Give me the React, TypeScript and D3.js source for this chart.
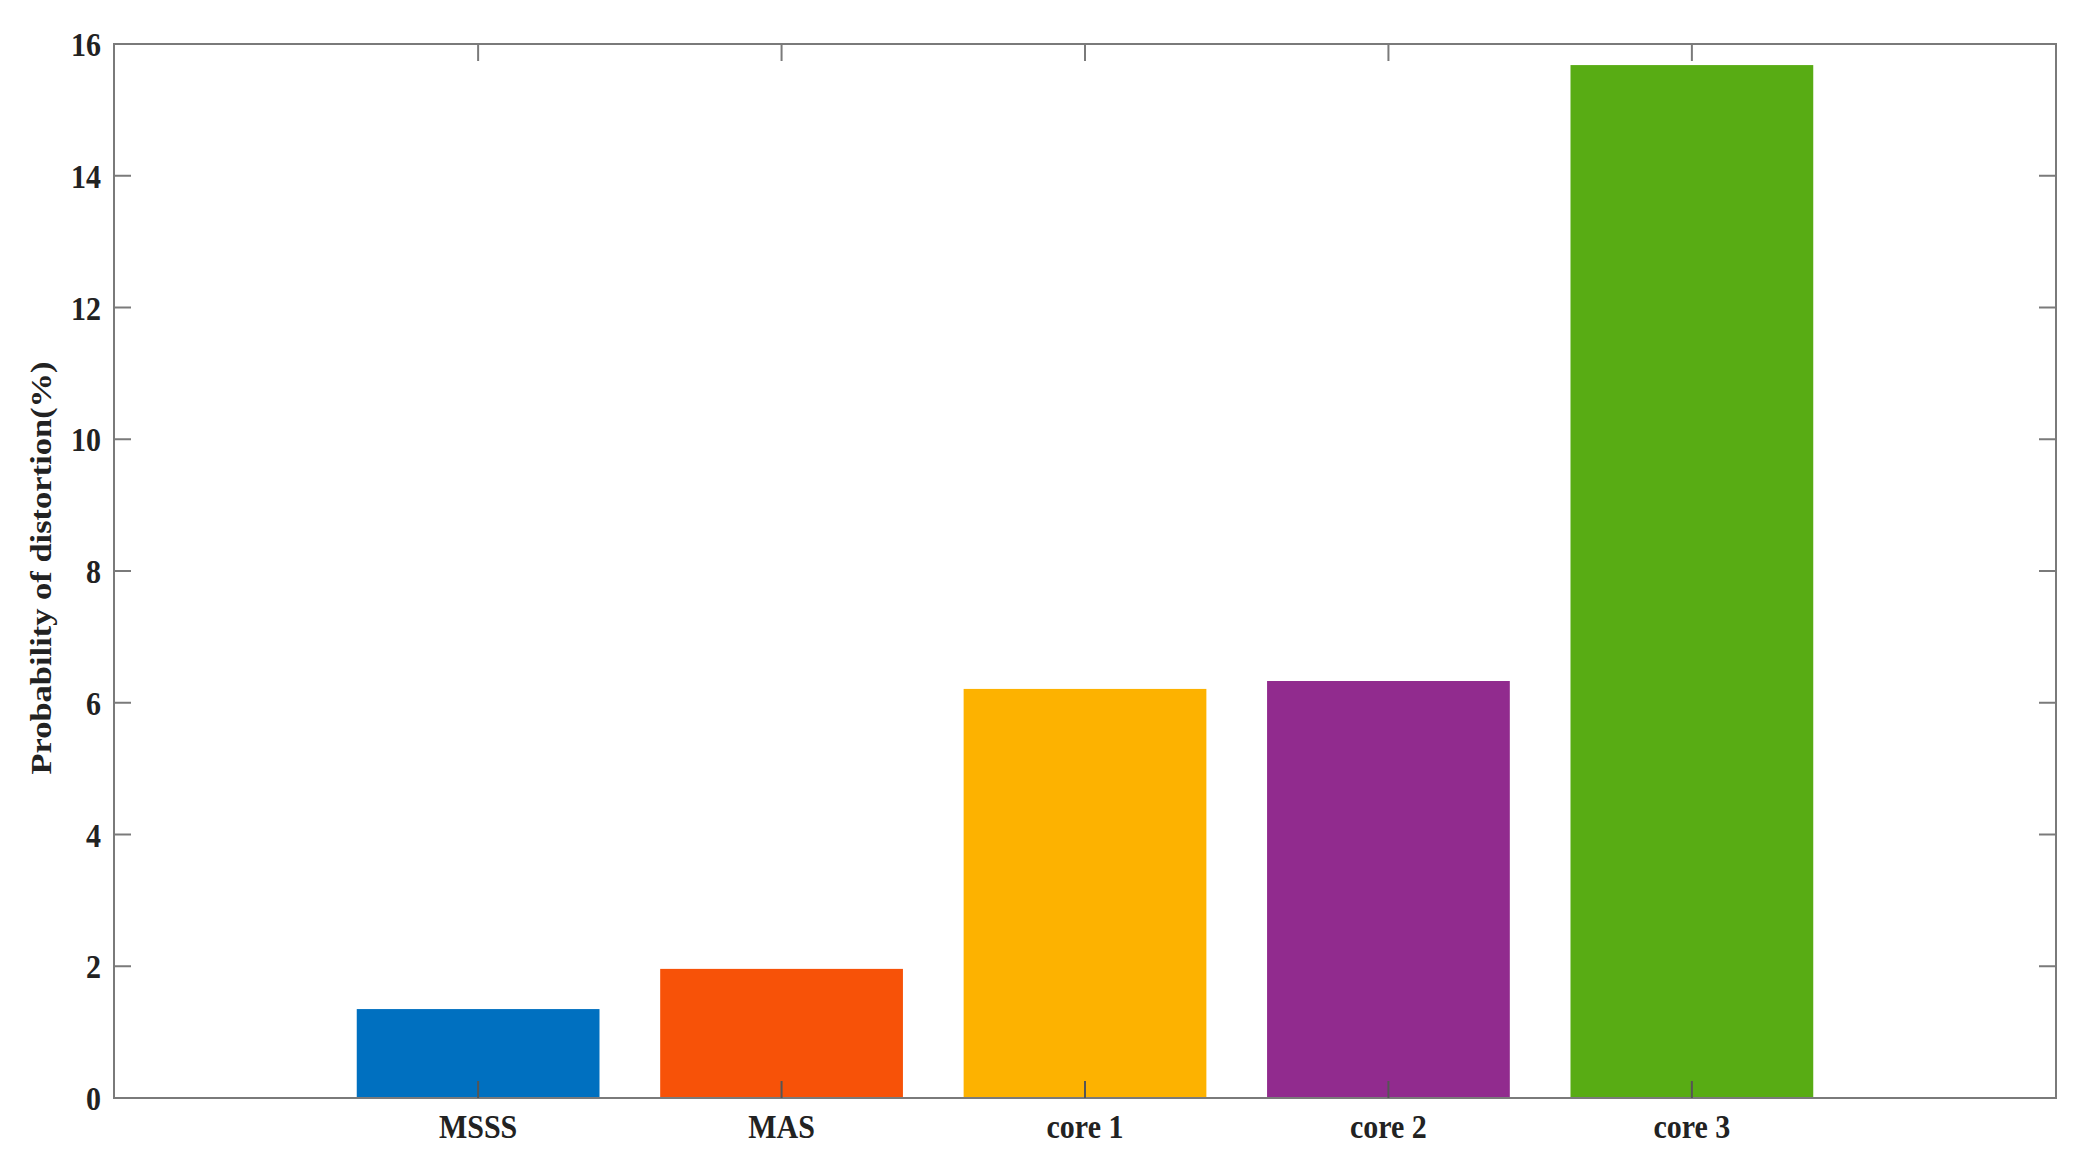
import React from "react";
import * as d3 from "d3";

const categories = ["MSSS", "MAS", "core 1", "core 2", "core 3"];
const values = [1.35, 1.96, 6.21, 6.33, 15.68];
const colors = ["#0070C0", "#F75208", "#FDB200", "#912B8E", "#58AC14"];
const yTicks = [0, 2, 4, 6, 8, 10, 12, 14, 16];
const yLabel = "Probability of distortion(%)";

const W = 2083;
const H = 1157;
const M = { left: 114, right: 2056, top: 44, bottom: 1098 };
const FONT = "'Liberation Serif', 'Times New Roman', serif";
const STRETCH = 1.15;

export default function App() {
  const x = d3.scaleLinear().domain([-0.2, 6.2]).range([M.left, M.right]);
  const y = d3.scaleLinear().domain([0, 16]).range([M.bottom, M.top]);
  const bw = x(0.8) - x(0);
  const tickLen = 17;
  const axisColor = "#7a7a7a";
  return (
    <svg
      width={W}
      height={H}
      style={{ position: "absolute", left: 0, top: 0, background: "#fff" }}
    >
      {values.map((v, i) => (
        <rect
          key={i}
          x={x(i + 1) - bw / 2}
          y={y(v)}
          width={bw}
          height={y(0) - y(v)}
          fill={colors[i]}
        />
      ))}
      <rect
        x={M.left}
        y={M.top}
        width={M.right - M.left}
        height={M.bottom - M.top}
        fill="none"
        stroke={axisColor}
        strokeWidth={2}
      />
      {yTicks.map((t) => (
        <g key={t}>
          <line x1={M.left} x2={M.left + tickLen} y1={y(t)} y2={y(t)} stroke={axisColor} strokeWidth={2} />
          <line x1={M.right} x2={M.right - tickLen} y1={y(t)} y2={y(t)} stroke={axisColor} strokeWidth={2} />
          <text
            transform={`translate(${M.left - 13}, ${y(t)}) scale(1, ${STRETCH})`}
            dy="0.35em"
            textAnchor="end"
            fontFamily={FONT}
            fontWeight="bold"
            fontSize={30}
            fill="#222"
          >
            {t}
          </text>
        </g>
      ))}
      {categories.map((c, i) => (
        <g key={c}>
          <line x1={x(i + 1)} x2={x(i + 1)} y1={M.bottom} y2={M.bottom - tickLen} stroke="#555" strokeWidth={2} />
          <line x1={x(i + 1)} x2={x(i + 1)} y1={M.top} y2={M.top + tickLen} stroke={axisColor} strokeWidth={2} />
          <text
            transform={`translate(${x(i + 1)}, ${M.bottom + 40}) scale(1, ${STRETCH})`}
            textAnchor="middle"
            fontFamily={FONT}
            fontWeight="bold"
            fontSize={30}
            fill="#222"
          >
            {c}
          </text>
        </g>
      ))}
      <text
        transform={`translate(40, ${(M.top + M.bottom) / 2 - 3}) rotate(-90) scale(${STRETCH}, 1)`}
        dy="0.35em"
        textAnchor="middle"
        fontFamily={FONT}
        fontWeight="bold"
        fontSize={30}
        fill="#222"
      >
        {yLabel}
      </text>
    </svg>
  );
}
